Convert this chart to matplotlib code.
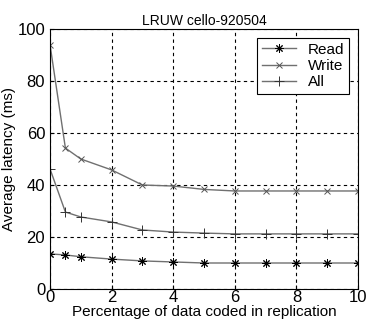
import matplotlib
matplotlib.use("Agg")
import matplotlib.pyplot as plt

plt.rcParams['font.family'] = ['Liberation Sans', 'DejaVu Sans']

x = [0, 0.5, 1, 2, 3, 4, 5, 6, 7, 8, 9, 10]
read = [13.5, 13.1, 12.4, 11.5, 10.8, 10.4, 10.0, 10.0, 10.0, 10.0, 10.0, 10.0]
write = [94, 54.2, 50, 45.8, 40, 39.6, 38.3, 37.7, 37.7, 37.7, 37.7, 37.7]
allv = [46.2, 29.6, 27.7, 25.8, 22.7, 21.9, 21.5, 21.2, 21.2, 21.2, 21.2, 21.2]

fig = plt.figure(figsize=(3.66, 3.22), dpi=100)
ax = fig.add_axes([50 / 366, 33 / 322, 308 / 366, 260 / 322])

lc = "#707070"
# matlab style asterisk: 8 spokes
ax.plot(x, read, '-', color=lc, lw=1.0, marker=(8, 2, 0), ms=6, mec='black', mew=0.7, label="Read")
ax.plot(x, write, '-', color=lc, lw=1.0, marker='x', ms=5, mec='#555555', mew=0.7, label="Write")
ax.plot(x, allv, '-', color=lc, lw=1.0, marker='+', ms=7, mec='#333333', mew=0.7, label="All")

ax.set_xlim(0, 10)
ax.set_ylim(0, 100)
ax.set_xticks([0, 2, 4, 6, 8, 10])
ax.set_yticks([0, 20, 40, 60, 80, 100])
ax.grid(True, ls=(0, (3, 3)), color='black', lw=0.8)
ax.tick_params(direction='in', labelsize=12, length=3)
ax.tick_params(axis='x', pad=1)
for s in ax.spines.values():
    s.set_linewidth(0.8)

ax.set_title("LRUW cello-920504", fontsize=10, pad=3)
ax.set_xlabel("Percentage of data coded in replication", fontsize=11, labelpad=0)
ax.set_ylabel("Average latency (ms)", fontsize=11, labelpad=1)

leg = ax.legend(loc='upper right', fontsize=11, frameon=True, fancybox=False,
                edgecolor='black', framealpha=1, handlelength=2.2,
                borderaxespad=0.6, labelspacing=0.15, borderpad=0.3)
leg.get_frame().set_linewidth(0.8)

fig.savefig("out.png", dpi=100)
